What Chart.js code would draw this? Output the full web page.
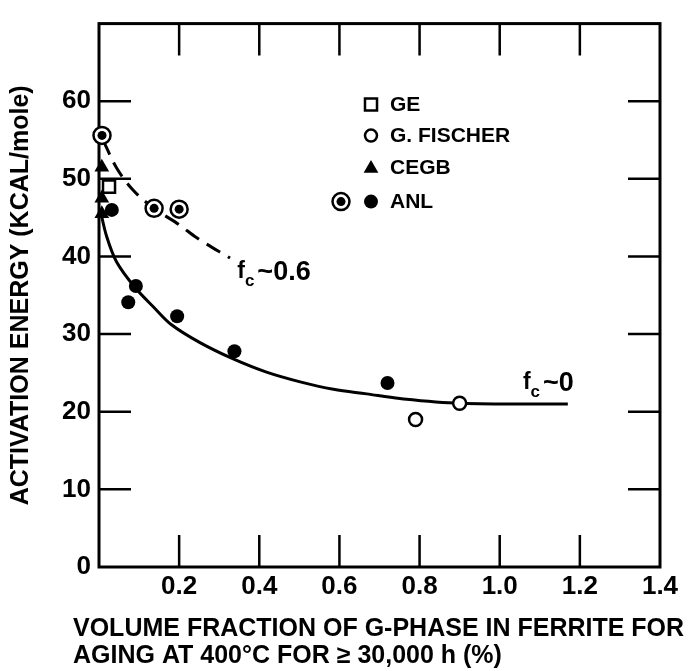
<!DOCTYPE html>
<html>
<head>
<meta charset="utf-8">
<script src="https://cdn.jsdelivr.net/npm/chart.js@4.4.1/dist/chart.umd.min.js"></script>
<style>
  html, body { margin: 0; padding: 0; background: #fff; }
</style>
</head>
<body>
<canvas id="chart" width="695" height="671"></canvas>
<script>
// axis ticks
const xTicks = [0, 0.2, 0.4, 0.6, 0.8, 1.0, 1.2, 1.4];
const yTicks = [0, 10, 20, 30, 40, 50, 60];

// measured points
const geX = [0.025];
const geY = [49.0];
const fischerX = [0.79, 0.90];
const fischerY = [19.0, 21.1];
const cegbX = [0.007, 0.007, 0.007];
const cegbY = [51.5, 47.5, 45.5];
const anlX = [0.032, 0.073, 0.092, 0.195, 0.338, 0.72];
const anlY = [46.0, 34.1, 36.2, 32.3, 27.8, 23.7];
const anlRingX = [0.0075, 0.1375, 0.20];
const anlRingY = [55.6, 46.2, 46.1];

// fitted curves
const fc0X = [0.003, 0.019, 0.044, 0.09, 0.136, 0.181, 0.252, 0.335, 0.418, 0.502, 0.585, 0.668, 0.751, 0.9, 1.17];
const fc0Y = [46.0, 42.6, 39.3, 36.0, 33.5, 31.2, 28.9, 26.8, 25.1, 23.85, 22.9, 22.3, 21.7, 21.1, 21.0];
const fc6X = [0.01, 0.044, 0.086, 0.1375, 0.2, 0.244, 0.327];
const fc6Y = [55.0, 51.4, 48.5, 46.2, 44.1, 42.4, 39.8];

const FONT = "'Liberation Sans', Arial, sans-serif";
const pts = (xs, ys) => xs.map((x, i) => ({ x: x, y: ys[i] }));

const scatterBase = { showLine: false, clip: false, order: 0 };

const framePlugin = {
  id: "frame",
  beforeDatasetsDraw(chart) {
    const { ctx, chartArea: a, scales } = chart;
    ctx.save();
    ctx.strokeStyle = "#000";
    ctx.lineWidth = 3;
    ctx.strokeRect(a.left, a.top, a.right - a.left, a.bottom - a.top);
    ctx.lineWidth = 2.5;
    const len = 32;
    ctx.beginPath();
    xTicks.slice(1, -1).forEach((v) => {
      const px = scales.x.getPixelForValue(v);
      ctx.moveTo(px, a.bottom); ctx.lineTo(px, a.bottom - len);
      ctx.moveTo(px, a.top); ctx.lineTo(px, a.top + len);
    });
    yTicks.slice(1).forEach((v) => {
      const py = scales.y.getPixelForValue(v);
      ctx.moveTo(a.left, py); ctx.lineTo(a.left + len, py);
      ctx.moveTo(a.right, py); ctx.lineTo(a.right - len, py);
    });
    ctx.stroke();
    ctx.restore();
  },
  afterDraw(chart) {
    const { ctx, chartArea: a, scales } = chart;
    ctx.save();
    ctx.fillStyle = "#000";
    // x axis title, two left-aligned lines
    ctx.font = "bold 25px " + FONT;
    ctx.textAlign = "left";
    ctx.textBaseline = "alphabetic";
    ctx.fillText("VOLUME FRACTION OF G-PHASE IN FERRITE FOR", a.left - 26, a.bottom + 69);
    ctx.fillText("AGING AT 400°C FOR ≥ 30,000 h (%)", a.left - 26, a.bottom + 96);

    // curve labels  f_c ~ value
    const fcLabel = (xv, yv, text) => {
      let x = scales.x.getPixelForValue(xv);
      const y = scales.y.getPixelForValue(yv);
      ctx.font = "bold 23px " + FONT;
      ctx.fillText("f", x, y - 2);
      x += ctx.measureText("f").width;
      ctx.font = "bold 17px " + FONT;
      ctx.fillText("c", x, y + 6);
      x += ctx.measureText("c").width + 3;
      ctx.font = "bold 27px " + FONT;
      ctx.fillText(text, x, y);
    };
    fcLabel(0.345, 37.0, "~0.6");
    fcLabel(1.058, 22.7, "~0");

    // legend
    const drawMark = (style, x, y, r, fill, bw) => {
      ctx.fillStyle = fill;
      ctx.strokeStyle = "#000";
      ctx.lineWidth = bw;
      Chart.helpers.drawPoint(ctx, { pointStyle: style, radius: r, rotation: 0, borderWidth: bw }, x, y);
    };
    const lx = a.left + 272, tx = a.left + 291;
    const rows = [
      { y: a.top + 81, label: "GE", draw: (y) => drawMark("rect", lx, y, 8.5, "#fff", 2.5) },
      { y: a.top + 112, label: "G. FISCHER", draw: (y) => drawMark("circle", lx, y, 6, "#fff", 2.5) },
      { y: a.top + 144, label: "CEGB", draw: (y) => drawMark("triangle", lx, y + 1, 8.5, "#000", 0) },
      { y: a.top + 178, label: "ANL", draw: (y) => {
        drawMark("circle", lx - 30, y, 8.5, "#fff", 2.5);
        drawMark("circle", lx - 30, y, 4.5, "#000", 0);
        drawMark("circle", lx, y, 7, "#000", 0);
      } },
    ];
    rows.forEach((r) => {
      r.draw(r.y);
      ctx.fillStyle = "#000";
      ctx.font = "bold 21px " + FONT;
      ctx.textBaseline = "middle";
      ctx.fillText(r.label, tx, r.y + 1);
    });
    ctx.restore();
  },
};

const chart = new Chart(document.getElementById("chart"), {
  type: "scatter",
  data: {
    datasets: [
      { ...scatterBase, label: "ANL", data: pts(anlRingX, anlRingY), order: -2,
        pointStyle: "circle", pointRadius: 4.5, pointBackgroundColor: "#000", pointBorderWidth: 0 },
      { ...scatterBase, label: "ANL", data: pts(anlRingX, anlRingY), order: -1,
        pointStyle: "circle", pointRadius: 8.5, pointBackgroundColor: "#fff",
        pointBorderColor: "#000", pointBorderWidth: 2.5 },
      { ...scatterBase, label: "ANL", data: pts(anlX, anlY),
        pointStyle: "circle", pointRadius: 7, pointBackgroundColor: "#000", pointBorderWidth: 0 },
      { ...scatterBase, label: "GE", data: pts(geX, geY),
        pointStyle: "rect", pointRadius: 8.5, pointBackgroundColor: "#fff",
        pointBorderColor: "#000", pointBorderWidth: 2.5 },
      { ...scatterBase, label: "G. FISCHER", data: pts(fischerX, fischerY),
        pointStyle: "circle", pointRadius: 6.5, pointBackgroundColor: "#fff",
        pointBorderColor: "#000", pointBorderWidth: 2.5 },
      { ...scatterBase, label: "CEGB", data: pts(cegbX, cegbY),
        pointStyle: "triangle", pointRadius: 8.5, pointBackgroundColor: "#000", pointBorderWidth: 0 },
      { label: "fc~0", data: pts(fc0X, fc0Y), showLine: true, order: 5,
        borderColor: "#000", borderWidth: 3, pointRadius: 0, tension: 0.35 },
      { label: "fc~0.6", data: pts(fc6X, fc6Y), showLine: true, order: 5,
        borderColor: "#000", borderWidth: 3, borderDash: [16, 9], pointRadius: 0, tension: 0.35 },
    ],
  },
  options: {
    responsive: false,
    animation: false,
    events: [],
    layout: { padding: { top: 10, right: 35, left: 0, bottom: 0 } },
    plugins: { legend: { display: false }, tooltip: { enabled: false } },
    scales: {
      x: {
        type: "linear",
        min: 0,
        max: 1.4,
        afterBuildTicks: (scale) => { scale.ticks = xTicks.map((v) => ({ value: v })); },
        afterFit: (scale) => { scale.height = 104; },
        grid: { display: false, drawTicks: false },
        border: { display: false },
        ticks: {
          padding: 4,
          color: "#000",
          font: { family: FONT, size: 26, weight: "bold" },
          callback: (v) => (v === 0 ? "" : Number(v).toFixed(1)),
        },
      },
      y: {
        type: "linear",
        min: 0,
        max: 70,
        afterBuildTicks: (scale) => { scale.ticks = yTicks.map((v) => ({ value: v })); },
        afterFit: (scale) => { scale.width = 99; },
        grid: { display: false, drawTicks: false },
        border: { display: false },
        ticks: {
          padding: 8,
          color: "#000",
          font: { family: FONT, size: 26, weight: "bold" },
          callback: (v) => String(v),
        },
        title: {
          display: true,
          text: "ACTIVATION ENERGY (KCAL/mole)",
          color: "#000",
          font: { family: FONT, size: 25, weight: "bold" },
          padding: { top: 6, bottom: 0 },
        },
      },
    },
  },
  plugins: [framePlugin],
});
</script>
</body>
</html>
